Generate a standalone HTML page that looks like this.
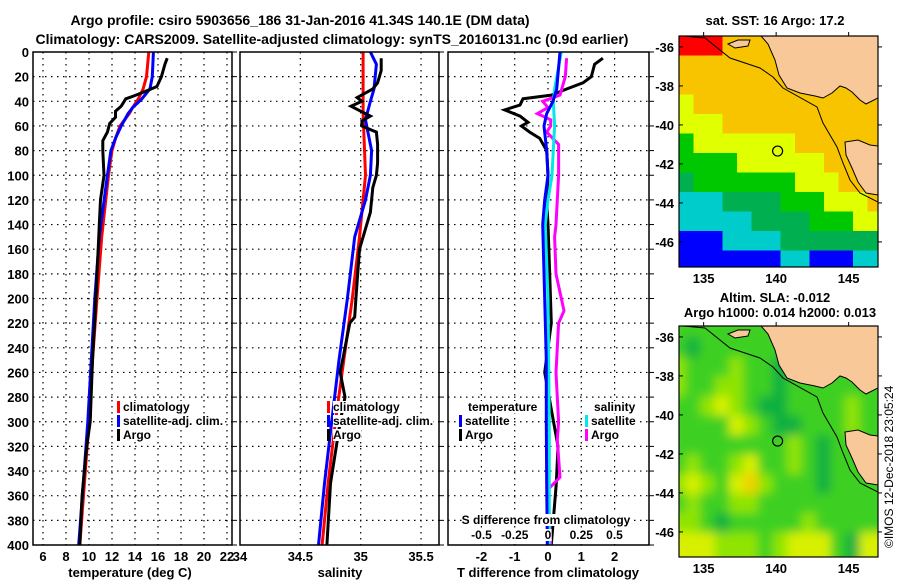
<!DOCTYPE html>
<html><head><meta charset="utf-8"><style>
html,body{margin:0;padding:0;background:#fff;}
svg{display:block;font-family:"Liberation Sans",sans-serif;font-weight:bold;}
</style></head><body>
<svg id="fig" width="900" height="580" viewBox="0 0 900 580" xmlns="http://www.w3.org/2000/svg">
<text x="300" y="25" font-size="14" text-anchor="middle">Argo profile: csiro 5903656_186 31-Jan-2016 41.34S 140.1E (DM data)</text>
<text x="332" y="44" font-size="14" text-anchor="middle">Climatology: CARS2009. Satellite-adjusted climatology: synTS_20160131.nc (0.9d earlier)</text>
<text x="775" y="25" font-size="13" text-anchor="middle">sat. SST: 16 Argo: 17.2</text>
<text x="775" y="302" font-size="13" text-anchor="middle">Altim. SLA: -0.012</text>
<text x="780" y="317" font-size="13" text-anchor="middle">Argo h1000: 0.014 h2000: 0.013</text>
<text transform="translate(893,548) rotate(-90)" font-size="12" font-weight="normal">©IMOS 12-Dec-2018 23:05:24</text>
</svg>
<script>
// ---- chart data ----
const depthTicks=[0,20,40,60,80,100,120,140,160,180,200,220,240,260,280,300,320,340,360,380,400];
const tempTicks=[6,8,10,12,14,16,18,20,22];
const salTicks=[34,34.5,35,35.5];
const dTTicks=[-2,-1,0,1,2];
const dSTicks=[-0.5,-0.25,0,0.25,0.5];
const dSTickLabels=["-0.5","-0.25","0","0.25","0.5"];

const climTDepth=[0,20,30,38,45,50,60,70,80,100,150,200,250,300,350,400];
const climT=[15.2,15.0,14.7,14.3,13.8,13.5,12.7,12.3,12.0,11.7,11.1,10.7,10.3,10.0,9.6,9.2];
const satTDepth=[0,20,30,38,45,50,60,70,80,100,150,200,250,300,350,400];
const satT=[15.6,15.5,15.3,14.6,13.8,13.4,12.8,12.3,11.9,11.6,10.9,10.5,10.2,9.9,9.5,9.1];
const argoTDepth=[5,10,20,28,32,36,38,44,48,53,58,65,72,80,100,120,140,160,200,250,300,320,360,400];
const argoT=[16.8,16.6,16.3,15.9,14.9,13.8,13.2,12.8,12.3,12.3,11.8,11.6,11.2,11.2,11.3,11.0,10.9,10.8,10.6,10.3,10.1,9.8,9.4,9.2];

const climSDepth=[0,50,100,150,200,250,300,350,400];
const climS=[35.02,35.02,35.04,34.99,34.93,34.86,34.79,34.73,34.68];
const satSDepth=[0,10,30,40,55,65,80,100,120,150,200,250,300,350,400];
const satS=[35.08,35.13,35.11,35.08,35.04,35.06,35.09,35.08,35.04,34.95,34.89,34.82,34.76,34.70,34.65];
const argoSDepth=[5,15,25,30,37,40,44,48,52,56,60,63,65,75,90,100,110,130,150,160,200,215,220,260,280,300,350,400];
const argoS=[35.17,35.17,35.14,35.1,34.97,35.01,34.92,35.0,35.08,35.01,35.01,35.08,35.13,35.14,35.14,35.13,35.1,35.08,35.02,34.99,34.96,34.95,34.91,34.83,34.87,34.83,34.75,34.72];

const satDTDepth=[0,30,40,50,60,80,100,120,140,200,250,300,350,400];
const satDT=[0.36,0.26,0.15,-0.04,-0.12,-0.04,0,-0.1,-0.16,-0.1,-0.05,-0.05,-0.04,-0.02];
const argoDTDepth=[5,10,20,25,30,35,38,43,47,52,57,60,65,70,80,100,120,140,180,220,260,290,320,350,400];
const argoDT=[1.65,1.4,1.3,1.05,0.56,0.1,-0.75,-0.84,-1.3,-0.84,-0.6,-0.8,-0.55,-0.25,-0.04,0,-0.04,0,0.05,0.1,-0.1,0.1,0.3,0.25,0.1];
const satDSDepth=[0,30,40,60,80,100,120,140,200,300,400];
const satDS=[0.1,0.05,0.04,0.05,0.04,0.03,0,-0.02,0,0.01,0.01];
const argoDSDepth=[5,20,35,40,45,50,55,60,65,75,100,120,140,150,180,210,220,260,300,315,345,355,400];
const argoDS=[0.14,0.13,0.09,-0.04,0,-0.08,0.02,0.02,-0.01,0.08,0.08,0.07,0.06,0.05,0.06,0.12,0.08,0.06,0.08,0.07,0.09,0.0,0.02];

const lonTicks=[135,140,145];
const latTicks=[-36,-38,-40,-42,-44,-46];
const argoLon=140.1, argoLat=-41.34;
// map cell colour codes (1 degree cells, from lon 133.3 / lat -35.4)
const sstRows=["RRROOOOOOOOOOO","OOOOOOOOOOOOOO","OOOOOOOOOOOOOO","YOOOOOOOOOOOOO","YYYOOOOOOOOOOO","GYYYYYYYOOOOOO","GGGGYYYYYYOOOO","gGGGGGGGYYYOOO","CCCggggGGGYYYO","CCCCCggggGGGYY","BBBCCCCggggggg","BBBBBBBCCBBBCC"];
const slaRows=["GGGGGGGGGGGGGG","GdGGGGGGGGGGGG","yGGGyGGdGGGGGG","yGGyyGGdGGGGGG","GGyYyGddGGGGyG","GGGGYyGddGGGyG","GGGGGGGGyGdGGG","GyGGyYGGyGdGGG","yYyGYOyGGGdGGG","GyGGyyGGGGGGGG","yyGdGGGGGyGGGG","YYYyyyGyYYYGdY"];
const sstColors={R:"#ff0000",O:"#f8c400",Y:"#e0ff00",G:"#00c800",g:"#00b050",C:"#00cccc",B:"#0000ff"};
const slaColors={G:"#3cd020",y:"#90e400",Y:"#d8f000",O:"#f0d000",d:"#10b040"};

// ---- drawing ----
const NS="http://www.w3.org/2000/svg";
const svg=document.getElementById('fig');
function el(tag,attrs,parent){const e=document.createElementNS(NS,tag);for(const k in attrs)e.setAttribute(k,attrs[k]);(parent||svg).appendChild(e);return e;}
const Y0=52,Y1=545;
function yD(d){return Y0+d*(Y1-Y0)/400;}
const panels=[
 {x0:33,x1:232,name:'temperature-panel'},
 {x0:240,x1:439,name:'salinity-panel'},
 {x0:448,x1:649,name:'difference-panel'}];
function xT(t){return 43+(t-6)*11.5;}
function xS(s){return 240+(s-34)*120.7;}
function xdT(v){return 548+v*33.3;}
function xdS(v){return 548+v*133;}

function grid(p,xs){
  const g=el('g',{});
  
  
  depthTicks.forEach(d=>{if(d>0&&d<400){const l=el('line',{x1:p.x0,x2:p.x1,y1:yD(d),y2:yD(d),stroke:'#000','stroke-width':1.2,'stroke-dasharray':'1.5 4.5'},g);
    }});
  xs.forEach(x=>{if(x>p.x0+2&&x<p.x1-2){const l=el('line',{x1:x,x2:x,y1:Y0,y2:Y1,stroke:'#000','stroke-width':1.2,'stroke-dasharray':'1.5 4.5'},g);
    }});
}
function frame(p){
  const r=el('rect',{x:p.x0,y:Y0,width:p.x1-p.x0,height:Y1-Y0,fill:'none',stroke:'#000','stroke-width':1.5});
  
  depthTicks.forEach(d=>{el('line',{x1:p.x1,x2:p.x1+5,y1:yD(d),y2:yD(d),stroke:'#000','stroke-width':1});});
}
function series(depths,vals,xf,color,name,clip){
  const pts=depths.map((d,i)=>xf(vals[i]).toFixed(1)+','+yD(d).toFixed(1)).join(' ');
  const l=el('polyline',{points:pts,fill:'none',stroke:color,'stroke-width':3,'stroke-linejoin':'miter','clip-path':'url(#'+clip+')'});
  
  
}
const defs=el('defs',{});
panels.forEach((p,i)=>{const c=el('clipPath',{id:'clip'+i},defs);el('rect',{x:p.x0,y:Y0,width:p.x1-p.x0,height:Y1-Y0},c);});

grid(panels[0],tempTicks.map(xT));
grid(panels[1],salTicks.map(xS));
grid(panels[2],dTTicks.map(xdT));

// depth labels
depthTicks.forEach(d=>{const t=el('text',{x:29,y:yD(d)+5,'font-size':13,'text-anchor':'end'});t.textContent=d;
  });
tempTicks.forEach(v=>{const t=el('text',{x:xT(v),y:561,'font-size':13,'text-anchor':'middle'});t.textContent=v;
  });
salTicks.forEach(v=>{const t=el('text',{x:xS(v),y:561,'font-size':13,'text-anchor':'middle'});t.textContent=v;
  });
dTTicks.forEach(v=>{const t=el('text',{x:xdT(v),y:561,'font-size':13,'text-anchor':'middle'});t.textContent=v;
  });
[['temperature (deg C)',130,'temperature-axis-title'],['salinity',340,'salinity-axis-title'],['T difference from climatology',548,'t-diff-axis-title']].forEach(a=>{
  const t=el('text',{x:a[1],y:577,'font-size':13,'text-anchor':'middle'});t.textContent=a[0];
  });

// series
series(climTDepth,climT,xT,'#ff0000','temperature-climatology-line','clip0');
series(satTDepth,satT,xT,'#0000ff','temperature-satellite-line','clip0');
series(argoTDepth,argoT,xT,'#000000','temperature-argo-line','clip0');
series(climSDepth,climS,xS,'#ff0000','salinity-climatology-line','clip1');
series(satSDepth,satS,xS,'#0000ff','salinity-satellite-line','clip1');
series(argoSDepth,argoS,xS,'#000000','salinity-argo-line','clip1');
series(argoDTDepth,argoDT,xdT,'#000000','t-diff-argo-line','clip2');
series(argoDSDepth,argoDS,xdS,'#ff00ff','s-diff-argo-line','clip2');
series(satDSDepth,satDS,xdS,'#00e8e8','s-diff-satellite-line','clip2');
series(satDTDepth,satDT,xdT,'#0000ff','t-diff-satellite-line','clip2');

// legends
function legendEntry(x,y,color,label,name){
  const g=el('g',{});
  
  
  if(color)el('rect',{x:x,y:y-10,width:3,height:12,fill:color},g);
  const t=el('text',{x:x+6,y:y,'font-size':12},g);t.textContent=label;
  const bb=t.getBBox();
  el('rect',{x:bb.x,y:bb.y+1,width:bb.width,height:bb.height-2,fill:'#fff'},g).parentNode.insertBefore(g.lastChild,g.firstChild);
}
legendEntry(117,411,'#ff0000','climatology','legend-climatology');
legendEntry(117,425,'#0000ff','satellite-adj. clim.','legend-satellite-adj');
legendEntry(117,439,'#000000','Argo','legend-argo');
legendEntry(327,411,'#ff0000','climatology','legend2-climatology');
legendEntry(327,425,'#0000ff','satellite-adj. clim.','legend2-satellite-adj');
legendEntry(327,439,'#000000','Argo','legend2-argo');
legendEntry(462,411,null,'temperature','legend-temperature-header');
legendEntry(459,425,'#0000ff','satellite','legend-t-satellite');
legendEntry(459,439,'#000000','Argo','legend-t-argo');
legendEntry(588,411,null,'salinity','legend-salinity-header');
legendEntry(585,425,'#00e8e8','satellite','legend-s-satellite');
legendEntry(585,439,'#ff00ff','Argo','legend-s-argo');
// S diff axis inside panel
(function(){
  const t=el('text',{x:546,y:524,'font-size':12,'text-anchor':'middle'});t.textContent='S difference from climatology';
  
  const bb=t.getBBox();svg.insertBefore(el('rect',{x:bb.x,y:bb.y+1,width:bb.width,height:bb.height-2,fill:'#fff'}),t);
  dSTicks.forEach((v,i)=>{const s=el('text',{x:xdS(v),y:539,'font-size':12,'text-anchor':'middle'});s.textContent=dSTickLabels[i];
    
    const b=s.getBBox();svg.insertBefore(el('rect',{x:b.x,y:b.y+1,width:b.width,height:b.height-2,fill:'#fff'}),s);});
})();
panels.forEach(frame);

// ---- maps ----
const MX0=679,MX1=878,LON0=133.3,LAT0=-35.44;
function mx(lon){return MX0+(lon-LON0)*14.5;}
function my(lat,top){return top+(LAT0-lat)*19.5;}
function drawMap(top,rows,colors,name,blur){
  const H=231;
  const cp=el('clipPath',{id:'mc'+top},defs);el('rect',{x:MX0,y:top,width:MX1-MX0,height:H},cp);
  const g=el('g',{'clip-path':'url(#mc'+top+')'});
  
  
  const inner=el('g',blur?{filter:'url(#blur)'}:{},g);
  rows.forEach((row,r)=>{[...row].forEach((ch,c)=>{
    const cell=el('rect',{x:mx(LON0+c)-(blur?8:0),y:my(LAT0-r,top)-(blur?8:0),width:14.5+(blur?16:0.5),height:19.5+(blur?16:0.5),fill:colors[ch]},inner);
    
    
  });});
  // land
  const o=top-36;
  const land='M761,'+(36+o)+' L768,'+(44+o)+' L775,'+(60+o)+' L779,'+(75+o)+' L787,'+(88+o)+' L800,'+(93+o)+' L815,'+(96+o)+' L823,'+(98+o)+' L832,'+(93+o)+' L840,'+(86+o)+' L846,'+(88+o)+' L852,'+(92+o)+' L860,'+(100+o)+' L866,'+(104+o)+' L878,'+(98+o)+' L878,'+(36+o)+' Z';
  const lp=el('path',{d:land,fill:'#f8c898',stroke:'#000','stroke-width':1},g);
  const tas='M845,'+(142+o)+' L858,'+(140+o)+' L870,'+(145+o)+' L878,'+(146+o)+' L878,'+(195+o)+' L866,'+(193+o)+' L858,'+(182+o)+' L852,'+(168+o)+' L846,'+(155+o)+' Z';
  const tp=el('path',{d:tas,fill:'#f8c898',stroke:'#000','stroke-width':1},g);
  const ki='M728,'+(44+o)+' L738,'+(40+o)+' L750,'+(40+o)+' L748,'+(46+o)+' L735,'+(48+o)+' Z';
  el('path',{d:ki,fill:'#f8c898',stroke:'#000','stroke-width':1},g);
  const shelf='M683,'+(36+o)+' L705,'+(38+o)+' L730,'+(58+o)+' L760,'+(68+o)+' L773,'+(77+o)+' L783,'+(88+o)+' L817,'+(107+o)+' L823,'+(123+o)+' L837,'+(147+o)+' L843,'+(163+o)+' L850,'+(180+o)+' L860,'+(193+o)+' L878,'+(202+o);
  el('path',{d:shelf,fill:'none',stroke:'#000','stroke-width':1},g);
  const ring=el('circle',{cx:mx(argoLon),cy:my(argoLat,top),r:5,fill:'none',stroke:'#000','stroke-width':1.2});
  
  el('rect',{x:MX0,y:top,width:MX1-MX0,height:H,fill:'none',stroke:'#000','stroke-width':1.2});
  latTicks.forEach(v=>{const y=my(v,top);el('line',{x1:MX0,x2:MX0+4,y1:y,y2:y,stroke:'#000'});el('line',{x1:MX1,x2:MX1+4,y1:y,y2:y,stroke:'#000'});
    const t=el('text',{x:674,y:y+5,'font-size':13,'text-anchor':'end'});t.textContent=v;
    });
  lonTicks.forEach(v=>{const x=mx(v);el('line',{x1:x,x2:x,y1:top-4,y2:top,stroke:'#000'});
    const t=el('text',{x:x,y:top+H+16,'font-size':13,'text-anchor':'middle'});t.textContent=v;
    });
}
const f=el('filter',{id:'blur',x:'-10%',y:'-10%',width:'120%',height:'120%'},defs);el('feGaussianBlur',{stdDeviation:5},f);
drawMap(36,sstRows,sstColors,'sst-map',false);
drawMap(326,slaRows,slaColors,'sla-map',true);
</script>
</body></html>
